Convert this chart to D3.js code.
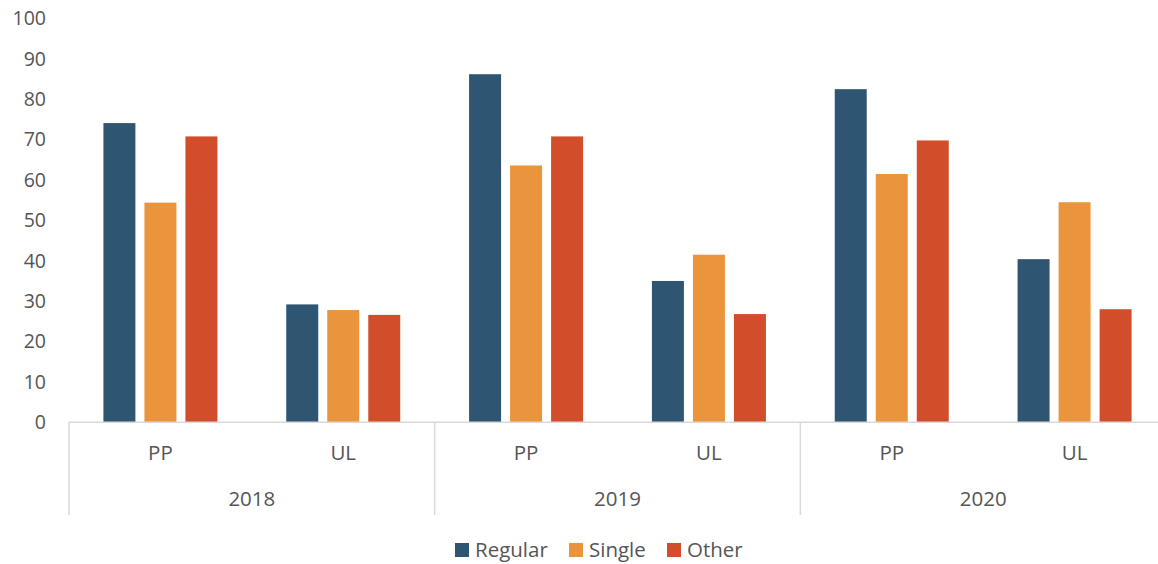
<!DOCTYPE html>
<html><head><meta charset="utf-8">
<script src="https://cdn.jsdelivr.net/npm/d3@7"></script>
<style>body{margin:0;background:#fff}svg{display:block;font-family:"Open Sans",sans-serif}</style>
</head><body><svg id="c" width="1158" height="564"></svg>
<script>
const years = ["2018","2019","2020"];
const subcats = ["PP","UL"];
const seriesNames = ["Regular","Single","Other"];
const colors = ["#2E5572","#EA943C","#D24D2A"];
const regular = [74.1, 29.2, 86.2, 35.0, 82.5, 40.4];
const single  = [54.4, 27.8, 63.6, 41.5, 61.5, 54.5];
const other   = [70.8, 26.6, 70.8, 26.8, 69.8, 28.0];
const yTicks = [0,10,20,30,40,50,60,70,80,90,100];

const svg = d3.select("#c");
const cats = [];
years.forEach(y => subcats.forEach(s => cats.push(y + "|" + s)));
const data = [regular, single, other];

const x = d3.scaleBand().domain(cats).range([69, 1166]);
const xi = d3.scaleBand().domain(seriesNames).range([0, 114]).paddingInner(0.22);
const y = d3.scaleLinear().domain([0,100]).range([422.3, 18.5]);

// y labels
svg.append("g").selectAll("text").data(yTicks).join("text")
  .attr("x", 46).attr("y", d => y(d)).attr("dy","0.35em")
  .attr("text-anchor","end").attr("fill","#555").style("font-size","19.5px")
  .text(d => d);

// bars
const bw = x.bandwidth();
seriesNames.forEach((s, si) => {
  svg.append("g").selectAll("rect").data(data[si]).join("rect")
    .attr("x", (d,i) => x(cats[i]) + (bw-114)/2 + xi(s))
    .attr("width", xi.bandwidth())
    .attr("y", d => y(d))
    .attr("height", d => y(0) - y(d))
    .attr("fill", colors[si]);
});

// axis line
const ax = svg.append("g").attr("stroke","#d9d9d9").attr("stroke-width",1.5);
ax.append("line").attr("x1",69).attr("x2",1166).attr("y1",y(0)).attr("y2",y(0));
years.forEach((yr, i) => {
  const xx = x(yr + "|PP");
  ax.append("line").attr("x1",xx).attr("x2",xx).attr("y1",y(0)).attr("y2",515);
});

// subcat labels
svg.append("g").selectAll("text").data(cats).join("text")
  .attr("x", d => x(d) + bw/2).attr("y", 453).attr("dy","0.35em")
  .attr("text-anchor","middle").attr("fill","#555").style("font-size","20.5px")
  .text(d => d.split("|")[1]);
// year labels
svg.append("g").selectAll("text").data(years).join("text")
  .attr("x", d => x(d + "|PP") + bw).attr("y", 499).attr("dy","0.35em")
  .attr("text-anchor","middle").attr("fill","#555").style("font-size","20.5px")
  .text(d => d);

// legend
const legX = [455, 569, 667];
const lg = svg.append("g");
seriesNames.forEach((s, i) => {
  lg.append("rect").attr("x", legX[i]).attr("y", 543).attr("width",14).attr("height",14).attr("fill",colors[i]);
  lg.append("text").attr("x", legX[i] + 20).attr("y", 550).attr("dy","0.35em")
    .attr("fill","#555").style("font-size","20.5px").text(s);
});
</script></body></html>
